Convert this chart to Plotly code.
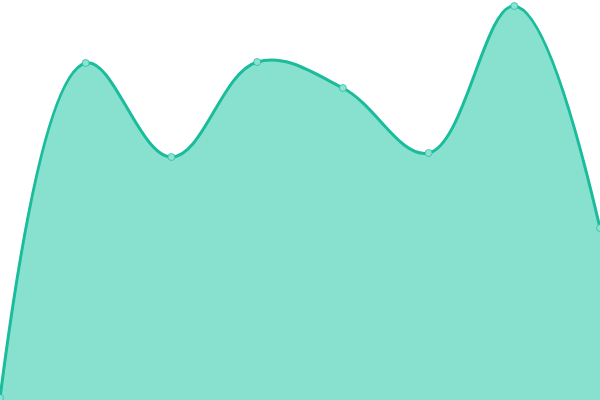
import plotly.graph_objects as go

categories = [0, 1, 2, 3, 4, 5, 6, 7]
values = [2, 337, 243, 338, 312, 247, 394, 172]

fig = go.Figure()
fig.add_trace(go.Scatter(
    x=categories, y=values,
    mode="lines+markers",
    line=dict(shape="spline", smoothing=1.1, color="#1abc9c", width=3),
    fill="tozeroy",
    fillcolor="#88e0cf",
    marker=dict(size=7, color="#8de2d1", line=dict(color="rgba(26,188,156,0.7)", width=1)),
    hoverinfo="skip",
    cliponaxis=False,
))
fig.update_layout(
    width=600, height=400,
    margin=dict(l=0, r=0, t=0, b=0),
    paper_bgcolor="white", plot_bgcolor="white",
    showlegend=False,
    xaxis=dict(visible=False, range=[0, 7], fixedrange=True),
    yaxis=dict(visible=False, range=[0, 400], fixedrange=True),
)
fig.write_html(
    "out.html",
    config={"displayModeBar": False},
    post_script="document.body.style.margin='0';document.body.style.padding='0';document.body.style.overflow='hidden';",
)
